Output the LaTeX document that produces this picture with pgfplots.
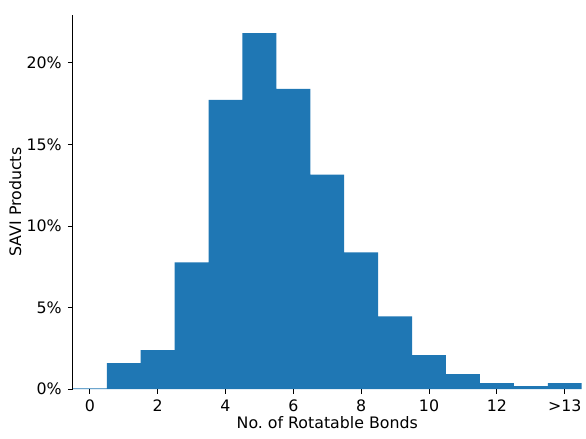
\documentclass[border=0pt]{standalone}
\usepackage{pgfplots}
\pgfplotsset{compat=1.18}
\usepackage{fontspec}
\setmainfont{DejaVu Sans}
\definecolor{mplblue}{HTML}{1F77B4}
\begin{document}
\begin{tikzpicture}[x=1pt,y=1pt]
\begin{axis}[
  name=ax,
  scale only axis,
  width=367.2pt, height=270pt,
  xmin=-0.5, xmax=14.5, ymin=0, ymax=22.94,
  axis lines=left,
  axis line style={-, black, line width=0.6pt},
  x axis line style={draw=none},
  tick align=outside,
  major tick length=3.5pt,
  every tick/.style={black, line width=0.6pt},
  xtick={0,2,4,6,8,10,12,14},
  xticklabels={0,2,4,6,8,10,12,{>13}},
  ytick={0,5,10,15,20},
  yticklabel={\pgfmathprintnumber{\tick}\%},
  /pgf/number format/assume math mode=true,
  tick label style={font=\fontsize{11.4}{13.5}\selectfont},
  label style={font=\fontsize{11.4}{13.5}\selectfont},
  yticklabel style={xshift=-1pt},
  xticklabel style={yshift=-0.5pt},
  xlabel={No.\ of Rotatable Bonds},
  ylabel={SAVI Products},
  xlabel style={yshift=3pt},
  ylabel style={yshift=-3pt},
  clip=false,
]
\addplot[ybar, bar width=1, bar shift=0pt, fill=mplblue, draw=none] coordinates {
(0,0.05) (1,1.59) (2,2.39) (3,7.77) (4,17.74) (5,21.83) (6,18.41) (7,13.15)
(8,8.38) (9,4.46) (10,2.08) (11,0.92) (12,0.37) (13,0.18) (14,0.37)
};
\end{axis}
\path ([xshift=-52.56pt,yshift=-35.28pt]ax.south west) rectangle ([xshift=2.16pt,yshift=10.8pt]ax.north east);
\end{tikzpicture}
\end{document}
